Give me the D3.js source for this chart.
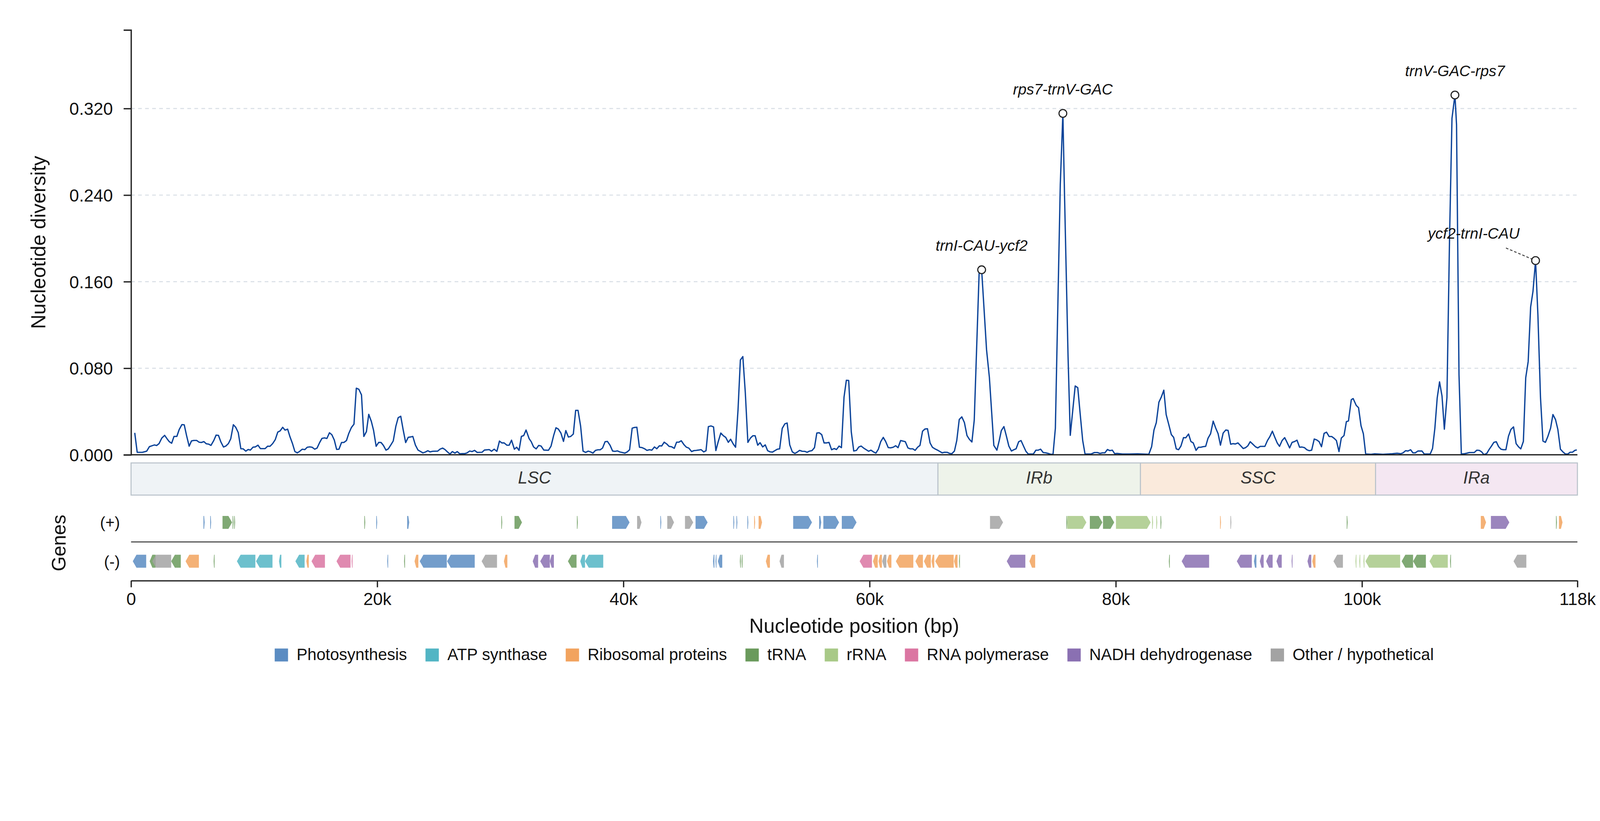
<!DOCTYPE html>
<html>
<head>
<meta charset="utf-8">
<title>Nucleotide diversity along the plastome</title>
<script src="https://cdn.jsdelivr.net/npm/d3@7/dist/d3.min.js"></script>
<style>
  html, body { margin: 0; padding: 0; background: #fff; width: 100%; height: 100%; overflow: hidden; }
  svg { display: block; width: 100vw; height: 100vh; font-family: "Liberation Sans", Arial, sans-serif; }
</style>
</head>
<body>
<svg id="chart" viewBox="0 0 4322 2102" preserveAspectRatio="xMidYMin meet"></svg>
<script>
// ---- data (positions in kb, diversity as Pi) ----
const genomeLength = 117500;
const xTickValues = [0, 20000, 40000, 60000, 80000, 100000, 117500];
const xTickLabels = ["0", "20k", "40k", "60k", "80k", "100k", "118k"];
const yTickValues = [0, 0.08, 0.16, 0.24, 0.32];
const yMax = 0.3926;

const regionNames = ["LSC", "IRb", "SSC", "IRa"];
const regionBounds = [0, 65550, 82000, 101100, 117500];

const categories = ["ps", "atp", "rib", "trna", "rrna", "rpo", "ndh", "oth"];
const categoryNames = ["Photosynthesis", "ATP synthase", "Ribosomal proteins", "tRNA", "rRNA",
  "RNA polymerase", "NADH dehydrogenase", "Other / hypothetical"];

const peakLabels = ["trnI-CAU-ycf2", "rps7-trnV-GAC", "trnV-GAC-rps7", "ycf2-trnI-CAU"];
const peakKb = [69.1, 75.7, 107.55, 114.1];
const peakPi = [0.171, 0.3155, 0.3325, 0.1795];

const diversity = [
  [0.3,0.0203],[0.5,0.0023],[0.92,0.0023],[1.27,0.0034],[1.49,0.0075],[1.68,0.0083],[1.89,0.0091],[2.08,0.0086],
  [2.27,0.0103],[2.5,0.0155],[2.73,0.018],[2.92,0.0149],[3.11,0.0121],[3.3,0.0107],[3.49,0.017],[3.72,0.017],
  [3.91,0.0233],[4.13,0.0279],[4.32,0.0277],[4.51,0.0178],[4.72,0.008],[4.91,0.0128],[5.1,0.0133],[5.33,0.0133],
  [5.52,0.0117],[5.71,0.0114],[5.92,0.0122],[6.11,0.0102],[6.3,0.0099],[6.49,0.0087],[6.72,0.0132],[6.91,0.0182],
  [7.1,0.018],[7.29,0.0121],[7.51,0.0072],[7.7,0.0081],[7.91,0.0104],[8.1,0.0149],[8.31,0.0278],[8.5,0.0255],
  [8.71,0.0205],[8.92,0.0056],[9.11,0.0055],[9.32,0.0034],[9.51,0.0049],[9.7,0.0044],[9.91,0.0071],[10.1,0.0073],
  [10.31,0.0089],[10.51,0.0057],[10.89,0.0057],[11.1,0.008],[11.29,0.0079],[11.5,0.0103],[11.71,0.0139],[11.92,0.021],
  [12.11,0.0221],[12.32,0.0254],[12.51,0.0228],[12.72,0.0237],[12.91,0.0167],[13.12,0.0102],[13.31,0.003],[13.51,0.0018],
  [13.7,0.0032],[13.91,0.0052],[14.12,0.0048],[14.31,0.007],[14.52,0.0073],[14.71,0.007],[14.92,0.0052],[15.11,0.0062],
  [15.32,0.0113],[15.51,0.0152],[15.72,0.0156],[15.91,0.0151],[16.12,0.0204],[16.31,0.0186],[16.51,0.0137],[16.7,0.005],
  [16.89,0.0052],[17.1,0.0114],[17.29,0.0114],[17.5,0.0132],[17.69,0.0198],[17.9,0.0252],[18.11,0.0283],[18.3,0.0616],
  [18.51,0.0605],[18.72,0.0554],[18.91,0.017],[19.12,0.0214],[19.31,0.0374],[19.52,0.0309],[19.7,0.0227],[19.91,0.0079],
  [20.12,0.0115],[20.31,0.0114],[20.5,0.0087],[20.71,0.0043],[20.9,0.0055],[21.11,0.0092],[21.3,0.0128],[21.51,0.0263],
  [21.7,0.0343],[21.91,0.0356],[22.1,0.0235],[22.31,0.0113],[22.52,0.0162],[22.71,0.0165],[22.89,0.017],[23.1,0.009],
  [23.31,0.0044],[23.5,0.0032],[23.71,0.0018],[23.9,0.0025],[24.11,0.0038],[24.3,0.0027],[24.51,0.0033],[24.91,0.0034],
  [25.1,0.0052],[25.31,0.0062],[25.5,0.0049],[25.71,0.0026],[25.91,0.0007],[26.1,0.003],[26.31,0.0016],[26.5,0.003],
  [26.71,0.0009],[26.9,0.0011],[27.11,0.0011],[27.3,0.0018],[27.51,0.0035],[27.7,0.003],[27.91,0.0041],[28.12,0.0022],
  [28.52,0.0024],[28.71,0.0044],[29.1,0.0048],[29.29,0.0033],[29.5,0.0052],[29.72,0.0032],[29.93,0.0127],[30.12,0.011],
  [30.31,0.011],[30.53,0.0089],[30.72,0.0089],[30.91,0.0135],[31.14,0.0052],[31.33,0.007],[31.52,0.0041],[31.71,0.017],
  [31.9,0.0178],[32.09,0.0229],[32.34,0.0149],[32.51,0.0121],[32.7,0.0073],[32.91,0.0055],[33.12,0.0087],[33.31,0.0081],
  [33.53,0.0044],[33.91,0.0042],[34.12,0.0081],[34.33,0.0178],[34.52,0.025],[34.71,0.0238],[34.92,0.0201],[35.13,0.0124],
  [35.32,0.0224],[35.53,0.0164],[35.72,0.017],[35.93,0.0192],[36.12,0.0411],[36.31,0.0411],[36.52,0.0267],[36.72,0.0034],
  [36.93,0.0022],[37.14,0.0034],[37.33,0.0027],[37.52,0.0016],[37.73,0.0041],[37.92,0.0046],[38.11,0.0046],[38.3,0.0062],
  [38.51,0.0121],[38.7,0.0124],[38.91,0.0089],[39.12,0.0035],[39.31,0.0032],[39.52,0.0036],[39.72,0.0026],[39.92,0.0021],
  [40.12,0.0016],[40.31,0.0027],[40.5,0.0047],[40.71,0.0246],[40.9,0.0253],[41.09,0.0255],[41.3,0.007],[41.51,0.0067],
  [41.72,0.0056],[41.91,0.0041],[42.12,0.0047],[42.31,0.0043],[42.52,0.0073],[42.71,0.0056],[42.92,0.0083],[43.11,0.0082],
  [43.31,0.0117],[43.52,0.01],[43.71,0.0078],[43.92,0.0074],[44.13,0.006],[44.32,0.0117],[44.51,0.0117],[44.7,0.013],
  [44.93,0.0092],[45.12,0.007],[45.31,0.0062],[45.54,0.003],[45.73,0.0039],[45.92,0.0041],[46.11,0.0044],[46.31,0.0048],
  [46.52,0.0027],[46.71,0.0038],[46.9,0.026],[47.11,0.0267],[47.32,0.0258],[47.51,0.0039],[47.7,0.0121],[47.91,0.0201],
  [48.12,0.0176],[48.31,0.0161],[48.52,0.0115],[48.71,0.0144],[48.92,0.01],[49.11,0.007],[49.31,0.0417],[49.5,0.0876],
  [49.7,0.0908],[49.9,0.0577],[50.11,0.0115],[50.32,0.0155],[50.51,0.0176],[50.7,0.0176],[50.91,0.0089],[51.1,0.0112],
  [51.31,0.0073],[51.52,0.0092],[51.71,0.0039],[51.92,0.0027],[52.11,0.0025],[52.31,0.0039],[52.51,0.0052],[52.69,0.0055],
  [52.9,0.0244],[53.11,0.0286],[53.3,0.0294],[53.51,0.0092],[53.72,0.0027],[53.93,0.0013],[54.12,0.0025],[54.31,0.0041],
  [54.52,0.0033],[54.73,0.0032],[54.92,0.0023],[55.11,0.0034],[55.32,0.0039],[55.52,0.0066],[55.71,0.0201],[55.9,0.0204],
  [56.11,0.0186],[56.3,0.011],[56.51,0.011],[56.7,0.0115],[56.91,0.0047],[57.12,0.0058],[57.31,0.0049],[57.52,0.0081],
  [57.71,0.0066],[57.92,0.0532],[58.11,0.0689],[58.3,0.0687],[58.51,0.0212],[58.71,0.0035],[58.93,0.0041],[59.12,0.0072],
  [59.31,0.0081],[59.52,0.0062],[59.71,0.0048],[59.92,0.0033],[60.11,0.0043],[60.31,0.0027],[60.51,0.0016],[60.71,0.0052],
  [60.9,0.0121],[61.11,0.0161],[61.3,0.0124],[61.51,0.0067],[61.7,0.0064],[61.91,0.007],[62.12,0.0084],[62.31,0.0066],
  [62.52,0.0132],[62.71,0.0127],[62.9,0.0121],[63.11,0.0064],[63.3,0.0055],[63.51,0.0055],[63.7,0.0041],[63.9,0.007],
  [64.09,0.0087],[64.3,0.0218],[64.49,0.0238],[64.7,0.0241],[64.91,0.011],[65.1,0.007],[65.29,0.0056],[65.5,0.0044],
  [65.69,0.0032],[65.9,0.0018],[66.09,0.0024],[66.3,0.0023],[66.49,0.0013],[66.68,0.001],[66.89,0.0035],[67.08,0.0132],
  [67.28,0.0326],[67.49,0.0351],[67.7,0.0298],[67.91,0.0178],[68.1,0.0144],[68.31,0.0119],[68.5,0.0321],[68.9,0.1694],
  [69.1,0.171],[69.5,0.097],[69.73,0.0714],[70.09,0.0087],[70.34,0.0043],[70.53,0.0132],[70.7,0.0224],[70.91,0.0261],
  [71.1,0.0178],[71.31,0.0081],[71.52,0.0035],[71.71,0.0047],[71.9,0.0056],[72.11,0.0121],[72.3,0.0132],[72.51,0.0079],
  [72.7,0.0032],[72.89,0.0007],[73.3,0.0007],[73.51,0.0043],[73.7,0.0043],[73.89,0.0052],[74.1,0.0021],[74.31,0.0018],
  [74.5,0.0013],[74.71,0.0005],[74.9,0.0005],[75.09,0.0246],[75.49,0.25],[75.7,0.3155],[75.83,0.242],[76.12,0.091],
  [76.3,0.018],[76.7,0.0636],[76.91,0.062],[77.12,0.036],[77.31,0.0132],[77.5,0.0007],[77.98,0.0007],[78.26,0.0021],
  [78.51,0.0021],[78.71,0.0013],[78.92,0.0018],[79.11,0.0018],[79.32,0.0049],[79.51,0.0039],[79.72,0.0043],[79.91,0.001],
  [80.1,0.0013],[80.54,0.0007],[81.11,0.0007],[81.77,0.0009],[82.15,0.0007],[82.68,0.0005],[82.91,0.0075],[83.1,0.0229],
  [83.29,0.0298],[83.5,0.0486],[83.69,0.0532],[83.9,0.0597],[84.09,0.0372],[84.3,0.0281],[84.51,0.0187],[84.7,0.0161],
  [84.91,0.0055],[85.1,0.0047],[85.29,0.0081],[85.5,0.0159],[85.68,0.0157],[85.91,0.0192],[86.1,0.0123],[86.29,0.011],
  [86.52,0.0041],[86.71,0.007],[86.9,0.007],[87.09,0.0075],[87.3,0.0078],[87.49,0.0153],[87.7,0.0195],[87.91,0.0311],
  [88.12,0.0246],[88.31,0.0195],[88.5,0.0089],[88.72,0.0201],[88.93,0.0229],[89.12,0.0226],[89.33,0.0098],[89.52,0.0103],
  [89.71,0.01],[89.92,0.011],[90.12,0.0087],[90.35,0.0058],[90.54,0.0066],[90.73,0.0084],[90.92,0.0121],[91.13,0.0098],
  [91.34,0.0075],[91.53,0.0064],[91.73,0.0078],[92.11,0.0078],[92.32,0.0132],[92.51,0.0167],[92.72,0.0218],[92.92,0.0161],
  [93.11,0.011],[93.3,0.0078],[93.51,0.0132],[93.72,0.0159],[93.91,0.0115],[94.12,0.0064],[94.32,0.0115],[94.53,0.0123],
  [94.72,0.0135],[94.93,0.007],[95.12,0.0072],[95.33,0.0066],[95.52,0.0047],[95.72,0.0038],[95.91,0.0043],[96.12,0.0146],
  [96.33,0.0137],[96.52,0.0121],[96.71,0.0075],[96.92,0.0198],[97.12,0.0209],[97.33,0.0169],[97.54,0.0169],[97.73,0.0153],
  [97.92,0.0132],[98.13,0.003],[98.32,0.0155],[98.54,0.0178],[98.73,0.0306],[98.9,0.0313],[99.13,0.0509],[99.28,0.052],
  [99.53,0.0457],[99.72,0.0435],[99.92,0.0269],[100.11,0.0195],[100.3,0.0007],[100.74,0.0005],[101.03,0.0009],[101.32,0.0007],
  [101.7,0.0005],[102.08,0.0007],[102.47,0.001],[102.85,0.0015],[103.14,0.001],[103.33,0.0018],[103.54,0.0038],[103.73,0.0035],
  [103.95,0.0047],[104.14,0.0018],[104.33,0.0018],[104.54,0.0035],[104.87,0.0035],[105.06,0.0007],[105.54,0.0007],[105.73,0.0058],
  [105.92,0.0246],[106.11,0.0526],[106.3,0.0674],[106.5,0.0543],[106.69,0.0237],[106.9,0.053],[107.11,0.199],[107.31,0.311],
  [107.55,0.3325],[107.68,0.305],[107.88,0.074],[108.07,0.0007],[108.32,0.001],[108.51,0.0015],[108.72,0.0021],[109.12,0.0021],
  [109.33,0.0043],[109.53,0.0041],[109.72,0.0027],[109.91,0.0001],[110.14,0.0013],[110.33,0.005],[110.52,0.0081],[110.71,0.0115],
  [110.91,0.0121],[111.1,0.0075],[111.29,0.0052],[111.48,0.0047],[111.69,0.0047],[111.9,0.0172],[112.1,0.0235],[112.31,0.0258],
  [112.52,0.0104],[112.71,0.0075],[112.9,0.0055],[113.11,0.0124],[113.3,0.0712],[113.5,0.0862],[113.7,0.1367],[113.89,0.151],
  [114.1,0.1795],[114.29,0.1293],[114.5,0.053],[114.7,0.0127],[114.9,0.0115],[115.09,0.0167],[115.32,0.0246],[115.51,0.0372],
  [115.72,0.0326],[115.91,0.0235],[116.12,0.0052],[116.32,0.0027],[116.53,0.0007],[116.72,0.0007],[116.91,0.0024],[117.1,0.0024],
  [117.29,0.0041],[117.45,0.0045]
];

// [start kb, end kb, strand, category]
const genes = [
  [5.88,5.98,"+","ps"],[6.43,6.5,"+","ps"],[7.43,8.21,"+","trna"],[8.25,8.29,"+","trna"],[8.38,8.42,"+","trna"],
  [18.95,18.99,"+","trna"],[19.92,19.96,"+","ps"],[22.43,22.6,"+","ps"],[30.08,30.12,"+","trna"],[31.15,31.76,"+","trna"],
  [36.22,36.26,"+","trna"],[39.08,40.5,"+","ps"],[41.11,41.47,"+","oth"],[43.0,43.06,"+","ps"],[43.56,44.11,"+","oth"],
  [45.0,45.67,"+","oth"],[45.86,46.84,"+","ps"],[48.93,48.98,"+","ps"],[49.18,49.23,"+","ps"],[50.07,50.12,"+","ps"],
  [50.62,50.7,"+","rib"],[50.98,51.26,"+","rib"],[53.79,55.32,"+","ps"],[55.9,56.07,"+","ps"],[56.24,57.52,"+","ps"],
  [57.74,58.94,"+","ps"],[69.78,70.84,"+","oth"],[75.98,76.03,"+","trna"],[76.06,77.61,"+","rrna"],[77.89,78.91,"+","trna"],
  [78.96,79.87,"+","trna"],[80.01,82.83,"+","rrna"],[82.95,82.99,"+","rrna"],[83.29,83.33,"+","rrna"],[83.63,83.67,"+","trna"],
  [88.47,88.54,"+","rib"],[89.31,89.36,"+","oth"],[98.76,98.81,"+","trna"],[109.65,110.08,"+","rib"],[110.47,111.97,"+","ndh"],
  [115.76,115.8,"+","trna"],[116.0,116.29,"+","rib"],
  [0.14,1.23,"-","ps"],[1.51,2.0,"-","trna"],[1.73,3.26,"-","oth"],[3.26,4.04,"-","trna"],[4.43,5.51,"-","rib"],
  [6.71,6.75,"-","trna"],[8.6,10.1,"-","atp"],[10.15,11.49,"-","atp"],[12.02,12.21,"-","atp"],[13.35,14.1,"-","atp"],
  [14.24,14.44,"-","rib"],[14.66,15.75,"-","rpo"],[16.69,17.83,"-","rpo"],[17.92,17.98,"-","rpo"],[20.81,20.85,"-","ps"],
  [22.18,22.22,"-","trna"],[23.03,23.34,"-","rib"],[23.45,25.65,"-","ps"],[25.67,27.92,"-","ps"],[28.48,29.73,"-","oth"],
  [30.29,30.57,"-","rib"],[32.63,33.07,"-","ndh"],[33.24,34.02,"-","ndh"],[34.02,34.35,"-","ndh"],[35.49,36.19,"-","trna"],
  [36.49,36.88,"-","atp"],[36.88,38.36,"-","atp"],[47.28,47.39,"-","ps"],[47.48,47.56,"-","ps"],[47.67,48.03,"-","ps"],
  [49.46,49.5,"-","trna"],[49.6,49.64,"-","trna"],[51.57,51.9,"-","rib"],[52.68,53.04,"-","oth"],[55.72,55.76,"-","ps"],
  [59.19,60.19,"-","rpo"],[60.27,60.66,"-","rib"],[60.72,61.0,"-","rib"],[61.02,61.36,"-","oth"],[61.41,61.77,"-","rib"],
  [62.13,63.55,"-","rib"],[63.72,64.33,"-","rib"],[64.41,64.97,"-","rib"],[65.03,65.25,"-","rib"],[65.33,66.83,"-","rib"],
  [66.86,67.14,"-","rib"],[67.26,67.3,"-","trna"],[71.14,72.65,"-","ndh"],[72.98,73.45,"-","rib"],[84.31,84.35,"-","trna"],
  [85.35,87.58,"-","ndh"],[89.83,91.05,"-","ndh"],[91.22,91.42,"-","ps"],[91.7,92.01,"-","ndh"],[92.21,92.74,"-","ndh"],
  [93.05,93.48,"-","ndh"],[94.28,94.32,"-","ndh"],[95.57,95.88,"-","ndh"],[95.96,96.22,"-","rib"],[97.68,98.45,"-","oth"],
  [99.47,99.51,"-","rrna"],[99.78,99.82,"-","rrna"],[100.12,100.16,"-","rrna"],[100.28,103.1,"-","rrna"],[103.22,104.15,"-","trna"],
  [104.15,105.19,"-","trna"],[105.48,106.97,"-","rrna"],[107.15,107.19,"-","trna"],[112.31,113.35,"-","oth"]
];

// ---- styling ----
const categoryColors = {
  ps: "#5b8cc2", atp: "#52b5c4", rib: "#f2a35e", trna: "#6a9a5c",
  rrna: "#a8c987", rpo: "#db76a2", ndh: "#8a70b2", oth: "#a3a3a3"
};
const regionColors = { LSC: "#eff3f6", IRb: "#eef3ea", SSC: "#faeadc", IRa: "#f4e7f2" };
const ink = "#222";

const plot = { left: 354, right: 4261, top: 81, bottom: 1228.7 };
const regionBand = { top: 1250.6, bottom: 1337.5 };
const track = { plus: 1411.3, minus: 1516.2, height: 35, divider: 1464 };
const axisY = 1568.6;

const svg = d3.select("#chart");
svg.append("rect").attr("width", 4322).attr("height", 2102).attr("fill", "#fff");

const x = d3.scaleLinear().domain([0, genomeLength]).range([plot.left, plot.right]);
const y = d3.scaleLinear().domain([0, yMax]).range([plot.bottom, plot.top]);

// grid
svg.append("g")
  .selectAll("line")
  .data(yTickValues.filter((v) => v > 0))
  .join("line")
  .attr("x1", plot.left)
  .attr("x2", plot.right)
  .attr("y1", (v) => y(v))
  .attr("y2", (v) => y(v))
  .attr("stroke", "#d9dfe6")
  .attr("stroke-width", 2.8)
  .attr("stroke-dasharray", "10,9");

// diversity line
const line = d3.line()
  .x((d) => x(d[0] * 1000))
  .y((d) => y(d[1]));

svg.append("path")
  .datum(diversity)
  .attr("d", line)
  .attr("fill", "none")
  .attr("stroke", "#0b4399")
  .attr("stroke-width", 3.5)
  .attr("stroke-linejoin", "round");

// y axis
const yAxis = svg.append("g")
  .attr("transform", `translate(${plot.left},0)`)
  .call(d3.axisLeft(y)
    .tickValues(yTickValues)
    .tickFormat(d3.format(".3f"))
    .tickSize(20)
    .tickSizeOuter(20)
    .tickPadding(29));
yAxis.selectAll("path, line").attr("stroke", ink).attr("stroke-width", 3.5);
yAxis.selectAll("text")
  .attr("font-size", 47)
  .attr("font-family", "Liberation Sans, Arial, sans-serif")
  .attr("fill", "#111")
  .attr("dy", "0.36em");

// baseline of the diversity panel
svg.append("line")
  .attr("x1", plot.left)
  .attr("x2", plot.right)
  .attr("y1", plot.bottom)
  .attr("y2", plot.bottom)
  .attr("stroke", ink)
  .attr("stroke-width", 3.5);

svg.append("text")
  .attr("transform", `translate(122.7,${(plot.top + plot.bottom) / 2}) rotate(-90)`)
  .attr("text-anchor", "middle")
  .attr("font-size", 54)
  .attr("fill", "#111")
  .text("Nucleotide diversity");

// peak annotations
const peaks = peakLabels.map((label, i) => ({ label, kb: peakKb[i], pi: peakPi[i] }));
const labelNudge = { "ycf2-trnI-CAU": { dx: -167, dy: -59, leader: true } };

const peakLayer = svg.append("g");
peaks.forEach((p) => {
  const cx = x(p.kb * 1000);
  const cy = y(p.pi);
  const nudge = labelNudge[p.label] || { dx: 0, dy: -51, leader: false };
  if (nudge.leader) {
    const sx = cx - 80, sy = cy - 34;
    const len = Math.hypot(cx - sx, cy - sy);
    const r = 11;
    peakLayer.append("line")
      .attr("x1", sx)
      .attr("y1", sy)
      .attr("x2", cx - ((cx - sx) / len) * r)
      .attr("y2", cy - ((cy - sy) / len) * r)
      .attr("stroke", "#444")
      .attr("stroke-width", 2.6)
      .attr("stroke-dasharray", "7,5");
  }
  peakLayer.append("circle")
    .attr("cx", cx)
    .attr("cy", cy)
    .attr("r", 10.5)
    .attr("fill", "#fff")
    .attr("stroke", ink)
    .attr("stroke-width", 3);
  peakLayer.append("text")
    .attr("x", cx + nudge.dx)
    .attr("y", cy + nudge.dy)
    .attr("text-anchor", "middle")
    .attr("font-size", 41)
    .attr("font-style", "italic")
    .attr("fill", "#111")
    .text(p.label);
});

// region band
const regions = regionNames.map((name, i) => ({ name, start: regionBounds[i], end: regionBounds[i + 1] }));
const regionLayer = svg.append("g");
regionLayer.selectAll("rect")
  .data(regions)
  .join("rect")
  .attr("x", (r) => x(r.start))
  .attr("y", regionBand.top)
  .attr("width", (r) => x(r.end) - x(r.start))
  .attr("height", regionBand.bottom - regionBand.top)
  .attr("fill", (r) => regionColors[r.name])
  .attr("stroke", "#bac3cb")
  .attr("stroke-width", 2.8);
regionLayer.selectAll("text")
  .data(regions)
  .join("text")
  .attr("x", (r) => (x(r.start) + x(r.end)) / 2)
  .attr("y", 1306)
  .attr("text-anchor", "middle")
  .attr("font-size", 46)
  .attr("font-style", "italic")
  .attr("fill", "#333")
  .text((r) => r.name);

// gene tracks
function genePath(g) {
  const x0 = x(g[0] * 1000);
  const w = Math.max(x(g[1] * 1000) - x0, 2.5);
  const mid = g[2] === "+" ? track.plus : track.minus;
  const top = mid - track.height / 2;
  const bottom = mid + track.height / 2;
  const head = Math.min(10, w * 0.45);
  if (g[2] === "+") {
    return `M${x0},${top}L${x0 + w - head},${top}L${x0 + w},${mid}L${x0 + w - head},${bottom}L${x0},${bottom}Z`;
  }
  return `M${x0 + w},${top}L${x0 + head},${top}L${x0},${mid}L${x0 + head},${bottom}L${x0 + w},${bottom}Z`;
}

svg.append("g")
  .selectAll("path")
  .data(genes)
  .join("path")
  .attr("d", genePath)
  .attr("fill", (g) => categoryColors[g[3]])
  .attr("fill-opacity", 0.85);

svg.append("line")
  .attr("x1", plot.left)
  .attr("x2", plot.right)
  .attr("y1", track.divider)
  .attr("y2", track.divider)
  .attr("stroke", "#333")
  .attr("stroke-width", 2.6);

svg.selectAll("text.strand")
  .data([["(+)", track.plus], ["(-)", track.minus]])
  .join("text")
  .attr("class", "strand")
  .attr("x", 324)
  .attr("y", (d) => d[1])
  .attr("dy", "0.36em")
  .attr("text-anchor", "end")
  .attr("font-size", 43)
  .attr("fill", "#111")
  .text((d) => d[0]);

svg.append("text")
  .attr("transform", "translate(177.5,1467) rotate(-90)")
  .attr("text-anchor", "middle")
  .attr("font-size", 52)
  .attr("fill", "#111")
  .text("Genes");

// position axis
const xAxis = svg.append("g")
  .attr("transform", `translate(0,${axisY})`)
  .call(d3.axisBottom(x)
    .tickValues(xTickValues)
    .tickFormat((d, i) => xTickLabels[i])
    .tickSize(18)
    .tickSizeOuter(0)
    .tickPadding(14.5));
xAxis.selectAll("path, line").attr("stroke", ink).attr("stroke-width", 3.5);
xAxis.selectAll("text")
  .attr("font-size", 47)
  .attr("font-family", "Liberation Sans, Arial, sans-serif")
  .attr("fill", "#111");

svg.append("text")
  .attr("x", (plot.left + plot.right) / 2)
  .attr("y", 1709.5)
  .attr("text-anchor", "middle")
  .attr("font-size", 54)
  .attr("fill", "#111")
  .text("Nucleotide position (bp)");

// legend
const legend = svg.append("g");
const swatch = 36;
const itemGap = 50;
let cursor = 0;
categories.forEach((cat, i) => {
  const item = legend.append("g").attr("transform", `translate(${cursor},0)`);
  item.append("rect")
    .attr("y", 1752)
    .attr("width", swatch)
    .attr("height", 35)
    .attr("fill", categoryColors[cat]);
  const label = item.append("text")
    .attr("x", swatch + 23)
    .attr("y", 1783.5)
    .attr("font-size", 44)
    .attr("fill", "#111")
    .text(categoryNames[i]);
  cursor += swatch + 23 + label.node().getComputedTextLength() + itemGap;
});
const legendWidth = cursor - itemGap;
legend.attr("transform", `translate(${(plot.left + plot.right) / 2 - legendWidth / 2},0)`);
</script>
</body>
</html>
